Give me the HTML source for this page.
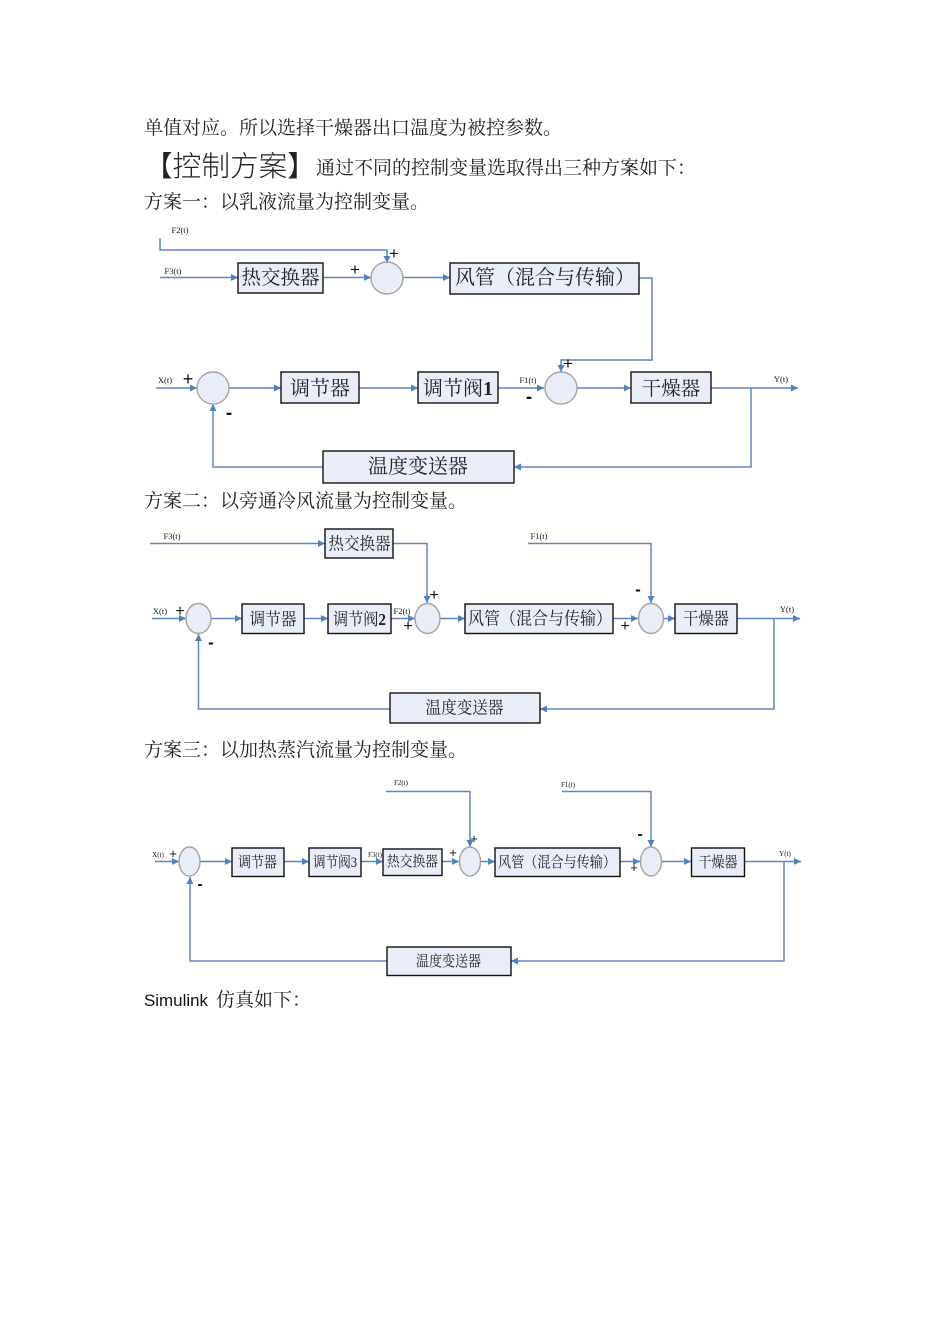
<!DOCTYPE html>
<html lang="zh"><head><meta charset="utf-8"><title>控制方案</title>
<style>
html,body{margin:0;padding:0;background:#fff}
svg{display:block;filter:blur(.35px)}
.t{font-family:"Liberation Serif","Noto Serif CJK SC",serif;fill:#222}
.p{font-size:19px}
.h{font-family:"Liberation Sans","Noto Sans CJK SC",sans-serif;font-weight:300;font-size:28.67px;fill:#222}
.b{font-family:"Liberation Serif","Noto Serif CJK SC",serif;fill:#222;text-anchor:middle}
.bs{font-family:"Liberation Serif","Noto Serif CJK SC",serif;fill:#222}
.s{font-family:"Liberation Serif",serif;font-size:8.5px;fill:#111;text-anchor:middle}
.s3{font-family:"Liberation Serif",serif;font-size:7px;fill:#111;text-anchor:middle}
.m{font-family:"Liberation Sans",sans-serif;fill:#111;text-anchor:middle}
.l{fill:none;stroke:#5d87bd;stroke-width:1.5}
.r{fill:#e9edf7;stroke:#111;stroke-width:1.4}
.c{fill:#e9edf7;stroke:#a3a3a3;stroke-width:1.4}
</style></head>
<body>
<svg width="950" height="1344" viewBox="0 0 950 1344" xmlns="http://www.w3.org/2000/svg">
<defs><marker id="a" markerUnits="userSpaceOnUse" markerWidth="8" markerHeight="8" refX="7" refY="4" orient="auto"><path d="M0 .5L7 4L0 7.500Z" fill="#4f81bd"/></marker></defs>
<rect width="950" height="1344" fill="#fff"/>

<text class="t p" x="144" y="134">单值对应。所以选择干燥器出口温度为被控参数。</text>
<text class="h" x="144" y="176">【控制方案】</text>
<text class="t p" x="316" y="174">通过不同的控制变量选取得出三种方案如下：</text>
<text class="t p" x="144" y="208">方案一：以乳液流量为控制变量。</text>
<text class="t p" x="144" y="507">方案二：以旁通冷风流量为控制变量。</text>
<text class="t p" x="144" y="756">方案三：以加热蒸汽流量为控制变量。</text>
<text x="144" y="1006" font-family="'Liberation Sans',sans-serif" font-size="16.500px" fill="#111" textLength="64" lengthAdjust="spacingAndGlyphs">Simulink</text>
<text class="t" x="216" y="1006" font-size="19px">仿真如下：</text>

<!-- Diagram 1 -->
<g class="l">
<path marker-end="url(#a)" d="M160 238V250H387V263"/>
<path marker-end="url(#a)" d="M160 277.500H238"/>
<path marker-end="url(#a)" d="M323 277.500H371"/>
<path marker-end="url(#a)" d="M403 277.500H450"/>
<path marker-end="url(#a)" d="M639 278H652V360H561V372"/>
<path marker-end="url(#a)" d="M156 388H197"/>
<path marker-end="url(#a)" d="M229 388H281"/>
<path marker-end="url(#a)" d="M359 388H418"/>
<path marker-end="url(#a)" d="M498 388H544"/>
<path marker-end="url(#a)" d="M577 388H631"/>
<path marker-end="url(#a)" d="M711 388H798"/>
<path marker-end="url(#a)" d="M751 388V467H514"/>
<path marker-end="url(#a)" d="M323 467H213V404"/>
</g>
<rect class="r" x="238" y="263" width="85" height="30"/>
<rect class="r" x="450" y="263" width="189" height="31"/>
<rect class="r" x="281" y="372" width="78" height="31"/>
<rect class="r" x="418" y="372" width="80" height="31"/>
<rect class="r" x="631" y="372" width="80" height="31"/>
<rect class="r" x="323" y="451" width="191" height="32"/>
<circle class="c" cx="387" cy="278" r="16"/>
<circle class="c" cx="213" cy="388" r="16"/>
<circle class="c" cx="561" cy="388" r="16"/>
<text class="b" x="280.500" y="284" font-size="19.500px">热交换器</text>
<text class="bs" x="455" y="284" font-size="20px">风管（混合与传输）</text>
<text class="b" x="320" y="395" font-size="20px">调节器</text>
<text class="b" x="458" y="395" font-size="20px">调节阀<tspan font-weight="bold">1</tspan></text>
<text class="b" x="671" y="395" font-size="19.500px">干燥器</text>
<text class="b" x="418" y="473" font-size="20px">温度变送器</text>
<text class="s" x="180" y="233">F2(t)</text>
<text class="s" x="173" y="274">F3(t)</text>
<text class="s" x="165" y="383">X(t)</text>
<text class="s" x="528" y="383">F1(t)</text>
<text class="s" x="781" y="382">Y(t)</text>
<text class="m" x="394" y="259" font-size="17px">+</text>
<text class="m" x="355" y="275" font-size="17px">+</text>
<text class="m" x="188" y="385" font-size="18px">+</text>
<text class="m" x="229" y="419" font-size="19px" font-weight="bold">-</text>
<text class="m" x="568" y="369" font-size="17px">+</text>
<text class="m" x="529" y="403" font-size="19px" font-weight="bold">-</text>

<!-- Diagram 2 -->
<g class="l">
<path marker-end="url(#a)" d="M150 543.500H325"/>
<path marker-end="url(#a)" d="M393 543.500H427V603"/>
<path marker-end="url(#a)" d="M528 543.500H651V603"/>
<path marker-end="url(#a)" d="M152 618.500H186"/>
<path marker-end="url(#a)" d="M211 618.500H242"/>
<path marker-end="url(#a)" d="M304 618.500H328"/>
<path marker-end="url(#a)" d="M391 618.500H415"/>
<path marker-end="url(#a)" d="M440 618.500H465"/>
<path marker-end="url(#a)" d="M613 618.500H638"/>
<path marker-end="url(#a)" d="M663 618.500H675"/>
<path marker-end="url(#a)" d="M737 618.500H800"/>
<path marker-end="url(#a)" d="M774 618.500V709H540"/>
<path marker-end="url(#a)" d="M390 709H198.500V634"/>
</g>
<rect class="r" x="325" y="529" width="68" height="29"/>
<rect class="r" x="242" y="604" width="62" height="29.500"/>
<rect class="r" x="328" y="604" width="63" height="29.500"/>
<rect class="r" x="465" y="604" width="148" height="29.500"/>
<rect class="r" x="675" y="604" width="62" height="29.500"/>
<rect class="r" x="390" y="693" width="150" height="30"/>
<ellipse class="c" cx="198.500" cy="618.500" rx="12.500" ry="15"/>
<ellipse class="c" cx="427.500" cy="618.500" rx="12.500" ry="15"/>
<ellipse class="c" cx="651" cy="618.500" rx="12.500" ry="15"/>
<text class="b" x="359.500" y="549.500" font-size="17px" textLength="62" lengthAdjust="spacingAndGlyphs">热交换器</text>
<text class="b" x="273" y="625" font-size="17px" textLength="47" lengthAdjust="spacingAndGlyphs">调节器</text>
<text class="b" x="359.500" y="625" font-size="17px" textLength="53" lengthAdjust="spacingAndGlyphs">调节阀<tspan font-weight="bold">2</tspan></text>
<text class="bs" x="468" y="624.500" font-size="17.500px" textLength="144" lengthAdjust="spacingAndGlyphs">风管（混合与传输）</text>
<text class="b" x="706" y="624.500" font-size="17px" textLength="46" lengthAdjust="spacingAndGlyphs">干燥器</text>
<text class="b" x="464.500" y="713.500" font-size="17px" textLength="78" lengthAdjust="spacingAndGlyphs">温度变送器</text>
<text class="s" x="172" y="539">F3(t)</text>
<text class="s" x="539" y="539">F1(t)</text>
<text class="s" x="160" y="614">X(t)</text>
<text class="s" x="402" y="614">F2(t)</text>
<text class="s" x="787" y="612">Y(t)</text>
<text class="m" x="180" y="616" font-size="16px">+</text>
<text class="m" x="211" y="648" font-size="17px" font-weight="bold">-</text>
<text class="m" x="408" y="631" font-size="16px">+</text>
<text class="m" x="434" y="600" font-size="16px">+</text>
<text class="m" x="638" y="595" font-size="17px" font-weight="bold">-</text>
<text class="m" x="625" y="631" font-size="16px">+</text>

<!-- Diagram 3 -->
<g class="l">
<path marker-end="url(#a)" d="M386 791.500H470V847"/>
<path marker-end="url(#a)" d="M562 791.500H651V847"/>
<path marker-end="url(#a)" d="M155 861.500H179"/>
<path marker-end="url(#a)" d="M200 861.500H232"/>
<path marker-end="url(#a)" d="M284 861.500H309"/>
<path marker-end="url(#a)" d="M361 861.500H383"/>
<path marker-end="url(#a)" d="M442 861.500H459"/>
<path marker-end="url(#a)" d="M481 861.500H495"/>
<path marker-end="url(#a)" d="M620 861.500H640"/>
<path marker-end="url(#a)" d="M661 861.500H691"/>
<path marker-end="url(#a)" d="M745 861.500H801"/>
<path marker-end="url(#a)" d="M784 861.500V961H511"/>
<path marker-end="url(#a)" d="M387 961H190V877"/>
</g>
<rect class="r" x="232" y="848" width="52" height="28.500"/>
<rect class="r" x="309" y="848" width="52" height="28.500"/>
<rect class="r" x="383" y="849" width="59" height="26.500"/>
<rect class="r" x="495" y="848" width="125" height="28.500"/>
<rect class="r" x="691.500" y="848" width="53" height="28.500"/>
<rect class="r" x="387" y="947" width="124" height="28.500"/>
<ellipse class="c" cx="189.500" cy="861.500" rx="10.500" ry="14.500"/>
<ellipse class="c" cx="470" cy="861.500" rx="10.500" ry="14.500"/>
<ellipse class="c" cx="651" cy="861.500" rx="10.500" ry="14.500"/>
<text class="b" x="257.500" y="867" font-size="15px" textLength="39" lengthAdjust="spacingAndGlyphs">调节器</text>
<text class="b" x="335" y="867" font-size="15px" textLength="44" lengthAdjust="spacingAndGlyphs">调节阀<tspan>3</tspan></text>
<text class="b" x="412.500" y="866.500" font-size="14.500px" textLength="51" lengthAdjust="spacingAndGlyphs">热交换器</text>
<text class="bs" x="498" y="867" font-size="15px" textLength="118" lengthAdjust="spacingAndGlyphs">风管（混合与传输）</text>
<text class="b" x="718" y="867" font-size="15px" textLength="39" lengthAdjust="spacingAndGlyphs">干燥器</text>
<text class="b" x="448.500" y="966" font-size="15px" textLength="65" lengthAdjust="spacingAndGlyphs">温度变送器</text>
<text class="s3" x="401" y="785">F2(t)</text>
<text class="s3" x="568" y="787">F1(t)</text>
<text class="s3" x="158" y="857">X(t)</text>
<text class="s3" x="375" y="857">F3(t)</text>
<text class="s3" x="785" y="856">Y(t)</text>
<text class="m" x="173" y="858" font-size="13px">+</text>
<text class="m" x="200" y="889" font-size="16px" font-weight="bold">-</text>
<text class="m" x="453" y="857" font-size="13px">+</text>
<text class="m" x="474" y="843" font-size="13px">+</text>
<text class="m" x="640" y="839" font-size="16px" font-weight="bold">-</text>
<text class="m" x="634" y="872" font-size="13px">+</text>
</svg>
</body></html>
